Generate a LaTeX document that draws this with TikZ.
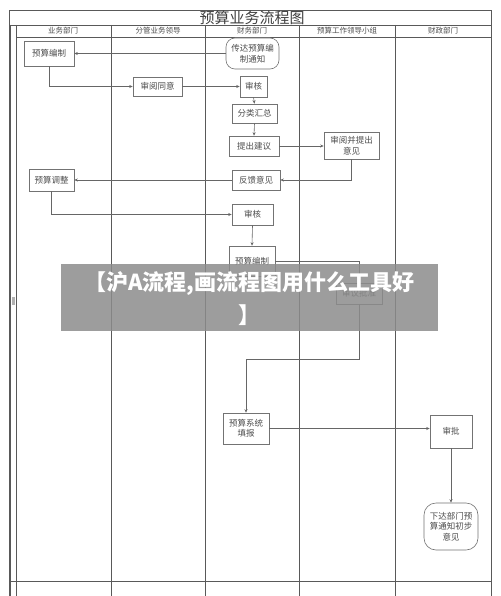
\documentclass[tikz,border=0pt]{standalone}
\usepackage{fontspec}
\newfontfamily\cjk{Noto Sans CJK SC}
\usetikzlibrary{arrows.meta}
\begin{document}
\begin{tikzpicture}[x=1pt,y=-1pt,
  frame/.style={draw=black!65,line width=0.6pt},
  box/.style={draw=black!55,fill=white,line width=0.6pt,inner sep=0pt,align=center,
    font=\cjk\fontsize{8.5}{10.5}\selectfont,text=black!70},
  rbox/.style={box,rounded corners=9pt},
  hdr/.style={font=\cjk\fontsize{7.5}{9}\selectfont,text=black!70,inner sep=0pt},
  flow/.style={draw=black!60,line width=0.6pt,-{Stealth[length=3.5pt,width=3pt]}}]
\useasboundingbox (0,0) rectangle (500,596);
\fill[white] (0,0) rectangle (500,596);
% frame and lanes
\draw[frame] (9,596) -- (9,10) -- (491,10) -- (491,596);
\draw[frame] (10.5,25) -- (10.5,596);
\draw[frame] (9,25) -- (491,25);
\draw[frame] (16,37) -- (491,37);
\draw[frame] (9,581) -- (491,581);
\foreach \xx in {16,111,205,299,395} \draw[frame] (\xx,25) -- (\xx,596);
\fill[black!30] (11.5,297) rectangle (14.5,305);
\node[font=\cjk\fontsize{15}{17}\selectfont,text=black!75,inner sep=0pt] (title) at (252,18) {预算业务流程图};
\node[hdr] (h1) at (63,31) {业务部门};
\node[hdr] (h2) at (158,31) {分管业务领导};
\node[hdr] (h3) at (252,31) {财务部门};
\node[hdr] (h4) at (347,31) {预算工作领导小组};
\node[hdr] (h5) at (443,31) {财政部门};
% nodes
\node[box,minimum width=50pt,minimum height=25pt] (n1) at (49,53.5) {预算编制};
\node[rbox,minimum width=53pt,minimum height=31pt] (n0) at (252.5,53.5) {传达预算编\\制通知};
\node[box,minimum width=49pt,minimum height=19pt] (n2) at (157.5,86.5) {审阅同意};
\node[box,minimum width=27pt,minimum height=21pt] (n3) at (253.5,86.5) {审核};
\node[box,minimum width=45pt,minimum height=19pt] (n4) at (254.5,113.5) {分类汇总};
\node[box,minimum width=50pt,minimum height=20pt] (n5) at (254,146) {提出建议};
\node[box,minimum width=55pt,minimum height=27pt] (n6) at (351.5,145.5) {审阅并提出\\意见};
\node[box,minimum width=45pt,minimum height=22pt] (n7) at (51.5,180) {预算调整};
\node[box,minimum width=48pt,minimum height=20pt] (n8) at (256,180) {反馈意见};
\node[box,minimum width=41pt,minimum height=21pt] (n9) at (252.5,214.5) {审核};
\node[box,minimum width=46pt,minimum height=30pt] (n10) at (252,261) {预算编制};
\node[box,minimum width=46pt,minimum height=21pt] (n11) at (359,293.5) {审议批准};
\node[box,minimum width=46pt,minimum height=31pt] (n12) at (246,428.5) {预算系统\\填报};
\node[box,minimum width=42pt,minimum height=33pt] (n13) at (451,431.5) {审批};
\node[rbox,minimum width=54pt,minimum height=47pt,rounded corners=12pt] (n14) at (451,526.5) {下达部门预\\算通知初步\\意见};
% connectors
\coordinate (c1) at (359,359);
\coordinate (c2) at (246,359);
\draw[flow] (n0.west) -- (n1.east);
\draw[flow] (n1.south) |- (n2.west);
\draw[flow] (n2.east) -- (n3.west);
\draw[flow] (n3.south) -- (n4.north);
\draw[flow] (n4.south) -- (n5.north);
\draw[flow] (n5.east) -- (n6.west |- n5.east);
\draw[flow] (n6.south) |- (n8.east);
\draw[flow] (n8.west) -- (n7.east);
\draw[flow] (n7.south) |- (n9.west);
\draw[flow] (n9.south) -- (n10.north);
\draw[flow] (n10.east) -| (n11.north);
\draw[flow] (n11.south) -- (c1) -- (c2) -- (n12.north);
\draw[flow] (n12.east) -- (n12.east -| n13.west);
\draw[flow] (n13.south) -- (n14.north);
% watermark overlay
\fill[black!45,opacity=0.85] (61,264) rectangle (438,331);
\node[font=\cjk\bfseries\fontsize{22}{33}\selectfont,text=white,align=center,inner sep=0pt] (wm) at (249.5,298.5) {【沪A流程,画流程图用什么工具好\\】};
\end{tikzpicture}
\end{document}
